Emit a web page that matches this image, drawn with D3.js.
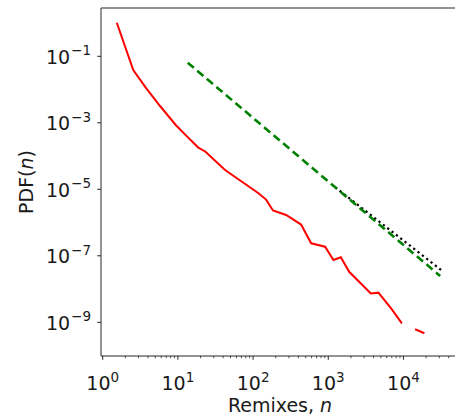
<!DOCTYPE html>
<html>
<head>
<meta charset="utf-8">
<script src="https://cdn.jsdelivr.net/npm/d3@7"></script>
<style>
  body { margin: 0; background: #fff; }
  text { font-family: "DejaVu Sans", sans-serif; fill: #1a1a1a; }
</style>
</head>
<body>
<div id="chart"></div>
<script>
// Remix counts (log bins) and their PDF; null = empty bin
const remixN = [1.54, 2.55, 3.78, 5.79, 9.36, 13.2, 18.5, 23.3, 42.4, 118, 149, 184, 275, 435,
                592, 908, 1172, 1469, 1896, 3684, 4645, 7014, 9530, 12000, 14300, 19000];
const pdfVals = [1.02, 0.0387, 0.0111, 3.2e-3, 8.6e-4, 3.9e-4, 1.83e-4, 1.35e-4, 3.8e-5, 7.6e-6,
                 4.9e-6, 2.3e-6, 1.69e-6, 8.7e-7, 2.38e-7, 1.88e-7, 7.5e-8, 9.0e-8, 3.3e-8,
                 7.4e-9, 7.8e-9, 2.46e-9, 9.3e-10, null, 6.2e-10, 4.7e-10];

// power-law fits: end points
const greenN = [13.5, 30800];
const greenPdf = [0.0642, 2.47e-8];
const blackN = [1240, 31750];
const blackPdf = [1.15e-5, 3.74e-8];

// tick labels
const xTickExp = [0, 1, 2, 3, 4];
const yTickExp = [-1, -3, -5, -7, -9];

const width = 455, height = 417;
const margin = { left: 101, top: 8 };
const plotRight = 459.7, plotBottom = 356;
const fontSize = 19, supSize = 13.5;

let svg = d3.select("#chart")
    .append("svg")
    .attr("width", width)
    .attr("height", height);

let x = d3.scaleLog()
    .domain([0.949, 56000])
    .range([margin.left, plotRight]);
let y = d3.scaleLog()
    .domain([2.835, 9.7e-11])
    .range([margin.top, plotBottom]);

// minor x ticks
let minors = [];
xTickExp.concat([-1]).forEach(function (e) {
    for (let k = 2; k <= 9; k++) {
        let v = k * Math.pow(10, e);
        if (v > x.domain()[0] && v < x.domain()[1]) minors.push(v);
    }
});

let lineStroke = "#262626";

// lines
let line = d3.line()
    .defined(d => d[1] !== null)
    .x(d => x(d[0]))
    .y(d => y(d[1]));

let plot = svg.append("g");
plot.append("path")
    .datum(remixN.map((n, i) => [n, pdfVals[i]]))
    .attr("d", line)
    .attr("fill", "none")
    .attr("stroke", "#ff0000")
    .attr("stroke-width", 2);

plot.append("path")
    .datum(blackN.map((n, i) => [n, blackPdf[i]]))
    .attr("d", line)
    .attr("fill", "none")
    .attr("stroke", "#000")
    .attr("stroke-width", 2.2)
    .attr("stroke-dasharray", "2.2,3.3");

plot.append("path")
    .datum(greenN.map((n, i) => [n, greenPdf[i]]))
    .attr("d", line)
    .attr("fill", "none")
    .attr("stroke", "#008000")
    .attr("stroke-width", 2.6)
    .attr("stroke-dasharray", "8,4.5");

// spines
svg.append("line")
    .attr("x1", margin.left).attr("x2", margin.left)
    .attr("y1", margin.top).attr("y2", plotBottom)
    .attr("stroke", lineStroke).attr("stroke-width", 1);
svg.append("line")
    .attr("x1", margin.left).attr("x2", width)
    .attr("y1", plotBottom).attr("y2", plotBottom)
    .attr("stroke", lineStroke).attr("stroke-width", 1);
svg.append("line")
    .attr("x1", margin.left).attr("x2", width)
    .attr("y1", margin.top).attr("y2", margin.top)
    .attr("stroke", lineStroke).attr("stroke-width", 1);

// x axis
let xAxis = svg.append("g")
    .attr("transform", `translate(0, ${plotBottom})`);
xAxis.selectAll(".minor").data(minors).enter()
    .append("line")
    .attr("x1", d => x(d)).attr("x2", d => x(d))
    .attr("y1", 0).attr("y2", 2.2)
    .attr("stroke", lineStroke).attr("stroke-width", 0.8);
let xt = xAxis.selectAll(".major").data(xTickExp).enter().append("g")
    .attr("transform", d => `translate(${x(Math.pow(10, d))},0)`);
xt.append("line").attr("y2", 3.8).attr("stroke", lineStroke).attr("stroke-width", 1);
let xl = xt.append("text")
    .attr("y", 34)
    .attr("text-anchor", "middle")
    .style("font-size", fontSize + "px");
xl.append("tspan").text("10");
xl.append("tspan").attr("dy", -8.5).style("font-size", supSize + "px").text(d => d);

// y axis
let yt = svg.append("g").selectAll("g").data(yTickExp).enter().append("g")
    .attr("transform", d => `translate(${margin.left},${y(Math.pow(10, d))})`);
yt.append("line").attr("x2", -3.8).attr("stroke", lineStroke).attr("stroke-width", 1);
let yl = yt.append("text")
    .attr("x", -10)
    .attr("y", 7.5)
    .attr("text-anchor", "end")
    .style("font-size", fontSize + "px");
yl.append("tspan").text("10");
yl.append("tspan").attr("dx", 1).attr("dy", -8.5).style("font-size", supSize + "px").text(d => "\u2212" + Math.abs(d));

// axis labels
let xLab = svg.append("text")
    .attr("x", (margin.left + width) / 2 + 2)
    .attr("y", 412)
    .attr("text-anchor", "middle")
    .style("font-size", fontSize + "px");
xLab.append("tspan").text("Remixes, ");
xLab.append("tspan").style("font-style", "italic").text("n");

let yLab = svg.append("text")
    .attr("transform", `translate(33, ${(margin.top + plotBottom) / 2}) rotate(-90)`)
    .attr("text-anchor", "middle")
    .style("font-size", fontSize + "px");
yLab.append("tspan").text("PDF(");
yLab.append("tspan").style("font-style", "italic").text("n");
yLab.append("tspan").text(")");
</script>
</body>
</html>
